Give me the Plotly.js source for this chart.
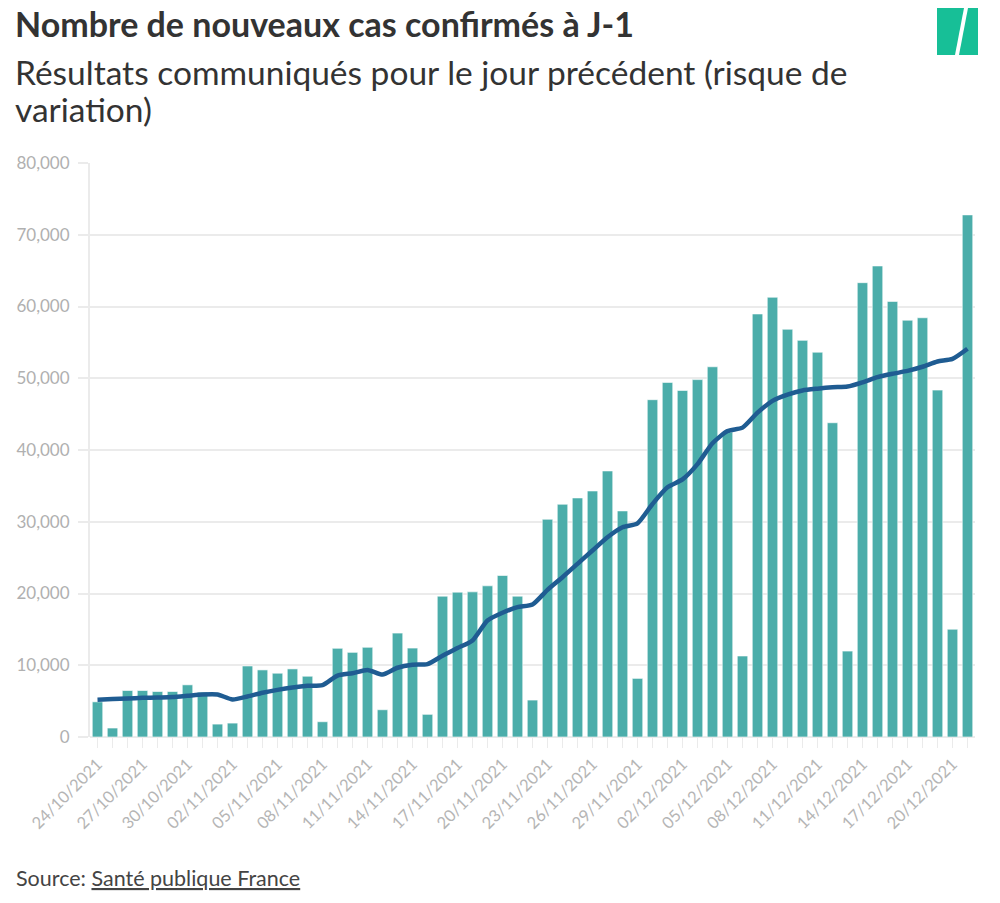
<!DOCTYPE html>
<html>
<head>
<meta charset="utf-8">
<script src="https://cdn.plot.ly/plotly-3.0.1.min.js"></script>
<style>
html,body{margin:0;padding:0;background:#fff;}
#chart{width:1000px;height:903px;}
</style>
</head>
<body>
<div id="chart"></div>
<script>
const dates = [
  "24/10/2021","25/10/2021","26/10/2021","27/10/2021","28/10/2021","29/10/2021","30/10/2021","31/10/2021",
  "01/11/2021","02/11/2021","03/11/2021","04/11/2021","05/11/2021","06/11/2021","07/11/2021","08/11/2021",
  "09/11/2021","10/11/2021","11/11/2021","12/11/2021","13/11/2021","14/11/2021","15/11/2021","16/11/2021",
  "17/11/2021","18/11/2021","19/11/2021","20/11/2021","21/11/2021","22/11/2021","23/11/2021","24/11/2021",
  "25/11/2021","26/11/2021","27/11/2021","28/11/2021","29/11/2021","30/11/2021",
  "01/12/2021","02/12/2021","03/12/2021","04/12/2021","05/12/2021","06/12/2021","07/12/2021","08/12/2021",
  "09/12/2021","10/12/2021","11/12/2021","12/12/2021","13/12/2021","14/12/2021","15/12/2021","16/12/2021",
  "17/12/2021","18/12/2021","19/12/2021","20/12/2021","21/12/2021"
];
const newCases = [
  4900,1250,6480,6480,6340,6340,7270,6250,
  1800,1940,9900,9350,8890,9490,8470,2130,
  12360,11800,12500,3800,14480,12390,3160,19630,
  20190,20230,21070,22510,19630,5150,30350,32440,
  33320,34290,37080,31510,8170,47010,
  49420,48300,49810,51600,42500,11290,58960,61290,
  56830,55280,53630,43800,11970,63320,65650,60710,
  58090,58430,48350,15020,72770
];
const rollingAvg = [
  5185,5280,5370,5460,5510,5560,5740,5930,
  5930,5230,5650,6160,6570,6900,7130,7220,
  8560,8890,9350,8700,9650,10070,10160,11320,
  12390,13460,16240,17310,18100,18470,20510,22270,
  24130,25990,27840,29230,29790,32480,
  34800,35900,38030,40940,42640,43120,45200,46850,
  47720,48300,48550,48740,48840,49420,50150,50630,
  51020,51600,52330,52710,54120
];
const yTickVals = [0,10000,20000,30000,40000,50000,60000,70000,80000];
const yTickText = ["0","10,000","20,000","30,000","40,000","50,000","60,000","70,000","80,000"];
const labelEvery = 3;

const titleText = "Nombre de nouveaux cas confirmés à J-1";
const subtitleLines = ["Résultats communiqués pour le jour précédent (risque de", "variation)"];
const sourceText = "Source: <u>Santé publique France</u>";

const xTickText = dates.map((d,i) => (i % labelEvery === 0 ? d : ""));

// pixel helpers for decoration placement
const L = 90, R = 25, T = 163, B = 166, W = 1000, H = 903;
const pw = W - L - R, ph = H - T - B;
const px = x => (x - L) / pw;
const py = y => (H - B - y) / ph;

function poly(pts){
  return "M" + pts.map(p => px(p[0]).toFixed(5) + "," + py(p[1]).toFixed(5)).join(" L") + " Z";
}

const FONT = "Lato, 'Open Sans', sans-serif";

const traces = [
  {
    type: "bar",
    x: dates,
    y: newCases,
    marker: {color: "#4badaa", line: {color: "rgba(255,255,255,0.6)", width: 1}},
    hoverinfo: "x+y"
  },
  {
    type: "scatter",
    mode: "lines",
    x: dates,
    y: rollingAvg,
    line: {color: "#1f5c92", width: 4.5, shape: "spline", smoothing: 0.6},
    hoverinfo: "x+y"
  }
];

const layout = {
  width: W, height: H,
  margin: {l: L, r: R, t: T, b: B},
  paper_bgcolor: "#fff",
  plot_bgcolor: "#fff",
  showlegend: false,
  bargap: 0.3,
  font: {family: FONT, color: "#333"},
  xaxis: {
    type: "category",
    range: [-0.5, dates.length - 0.5],
    tickmode: "array",
    tickvals: dates,
    ticktext: xTickText,
    tickangle: -45,
    ticks: "outside",
    ticklen: 10,
    tickcolor: "#ebebeb",
    tickwidth: 1.5,
    tickfont: {family: FONT, size: 16.5, color: "#b5b5b5"},
    showgrid: false,
    showline: false,
    zeroline: false,
    fixedrange: true
  },
  yaxis: {
    range: [0, 80000],
    tickmode: "array",
    tickvals: yTickVals,
    ticktext: yTickText,
    ticks: "outside",
    ticklen: 10,
    tickcolor: "#ebebeb",
    tickwidth: 2,
    ticklabelstandoff: 5,
    tickfont: {family: FONT, size: 17, color: "#b0b0b0"},
    showgrid: true,
    gridcolor: "#ebebeb",
    gridwidth: 2,
    showline: true,
    linecolor: "#ebebeb",
    linewidth: 2,
    zeroline: true,
    zerolinecolor: "#ebebeb",
    zerolinewidth: 2,
    fixedrange: true
  },
  annotations: [
    {
      xref: "paper", yref: "paper",
      x: px(13), y: py(23), xanchor: "left", yanchor: "middle",
      text: "<b>" + titleText + "</b>",
      showarrow: false,
      font: {family: FONT, size: 34, color: "#333333"}
    },
    {
      xref: "paper", yref: "paper",
      x: px(13), y: py(72), xanchor: "left", yanchor: "middle",
      text: subtitleLines[0],
      showarrow: false,
      font: {family: FONT, size: 33.5, color: "#333333"}
    },
    {
      xref: "paper", yref: "paper",
      x: px(13), y: py(109), xanchor: "left", yanchor: "middle",
      text: subtitleLines[1],
      showarrow: false,
      font: {family: FONT, size: 33.5, color: "#333333"}
    },
    {
      xref: "paper", yref: "paper",
      x: px(14), y: py(878), xanchor: "left", yanchor: "middle",
      text: sourceText,
      showarrow: false,
      font: {family: FONT, size: 21.5, color: "#444444"}
    }
  ],
  shapes: [
    {type: "path", xref: "paper", yref: "paper", layer: "above",
     path: poly([[937,8],[964,8],[955,55],[937,55]]),
     fillcolor: "#17bf97", line: {width: 0}},
    {type: "path", xref: "paper", yref: "paper", layer: "above",
     path: poly([[968,8],[978,8],[978,55],[959,55]]),
     fillcolor: "#17bf97", line: {width: 0}}
  ]
};

Plotly.newPlot("chart", traces, layout, {displayModeBar: false, staticPlot: true});
</script>
</body>
</html>
